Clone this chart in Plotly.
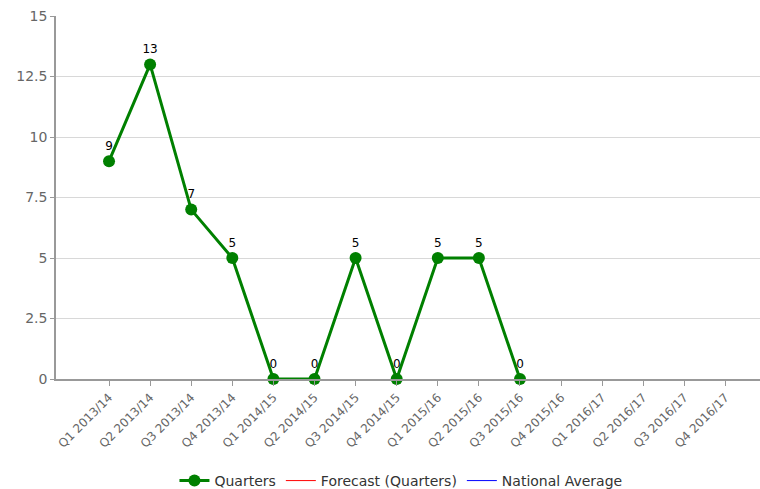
import plotly.graph_objects as go

categories = ["Q1 2013/14", "Q2 2013/14", "Q3 2013/14", "Q4 2013/14",
              "Q1 2014/15", "Q2 2014/15", "Q3 2014/15", "Q4 2014/15",
              "Q1 2015/16", "Q2 2015/16", "Q3 2015/16", "Q4 2015/16",
              "Q1 2016/17", "Q2 2016/17", "Q3 2016/17", "Q4 2016/17"]
quarters = [9, 13, 7, 5, 0, 0, 5, 0, 5, 5, 0, None, None, None, None, None]
forecast = [None] * 16
national_average = [None] * 16
y_ticks = [0, 2.5, 5, 7.5, 10, 12.5, 15]

fig = go.Figure()
fig.add_trace(go.Scatter(
    x=categories, y=quarters, name="Quarters", mode="lines+markers+text",
    line=dict(color="#008000", width=3),
    marker=dict(color="#008000", size=12),
    text=[str(v) if v is not None else "" for v in quarters],
    textposition="top center",
    textfont=dict(family="DejaVu Sans", size=12, color="#000000"),
    cliponaxis=False,
))
fig.add_trace(go.Scatter(
    x=categories, y=forecast, name="Forecast (Quarters)", mode="lines",
    line=dict(color="#ff0000", width=1),
))
fig.add_trace(go.Scatter(
    x=categories, y=national_average, name="National Average", mode="lines",
    line=dict(color="#0000ff", width=1),
))

fig.update_layout(
    width=760, height=489,
    margin=dict(l=56, r=0, t=16, b=110, autoexpand=False),
    paper_bgcolor="white", plot_bgcolor="white",
    font=dict(family="DejaVu Sans", color="#666666"),
    showlegend=True,
    legend=dict(orientation="h", x=0.49, xanchor="center",
                yref="container", y=0.0164, yanchor="middle",
                font=dict(family="DejaVu Sans", size=14, color="#333333"),
                itemwidth=30, tracegroupgap=0, bgcolor="rgba(0,0,0,0)"),
)
fig.update_xaxes(
    type="category", categoryorder="array", categoryarray=categories,
    range=[-1.29, 15.84], automargin=False,
    showline=True, linecolor="#999999", linewidth=1.5,
    ticks="outside", ticklen=5, tickcolor="#999999",
    tickangle=-45, tickfont=dict(family="DejaVu Sans", size=12, color="#666666"),
    showgrid=False, zeroline=False,
)
fig.update_yaxes(
    range=[0, 15], tickvals=y_ticks, ticktext=[str(v) for v in y_ticks],
    automargin=False,
    showline=True, linecolor="#999999", linewidth=1.5,
    ticks="outside", ticklen=4, tickcolor="#999999",
    tickfont=dict(family="DejaVu Sans", size=14, color="#666666"),
    showgrid=True, gridcolor="#d8d8d8", gridwidth=1, zeroline=False,
)

fig.write_html("out.html")
